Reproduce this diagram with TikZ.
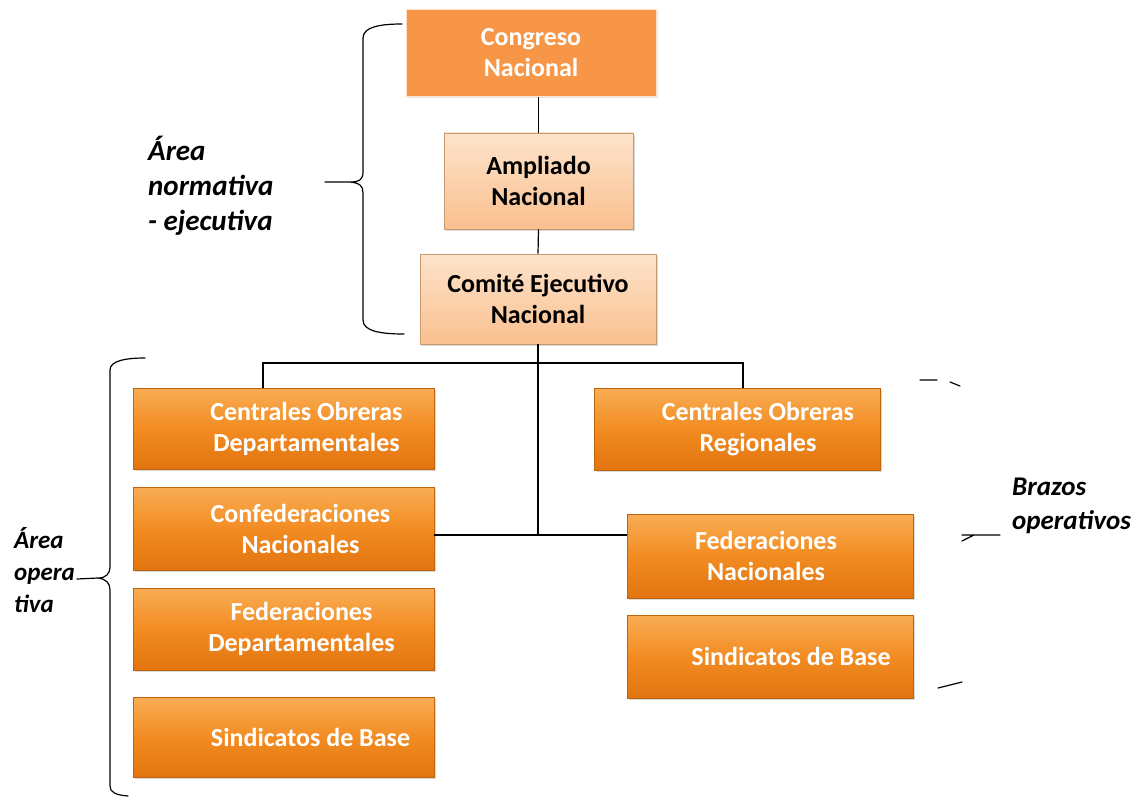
\documentclass[tikz,border=0pt]{standalone}
\usepackage{fontspec}
\setmainfont{Carlito}
\usetikzlibrary{shadows}
\definecolor{orgtop}{HTML}{F9AD55}
\definecolor{orgmid}{HTML}{F28C22}
\definecolor{orgbot}{HTML}{E27410}
\definecolor{congfill}{HTML}{F79646}
\definecolor{ltop}{HTML}{FDE3CB}
\definecolor{lbot}{HTML}{FAC08F}
\tikzset{
  orgbox/.style={draw=orgbot!85!black, line width=.6pt, top color=orgtop, bottom color=orgbot, middle color=orgmid,
    drop shadow={opacity=.3,shadow xshift=2pt,shadow yshift=-2pt}, inner sep=0pt},
  ltbox/.style={draw=lbot!80!black, line width=.6pt, top color=ltop, bottom color=lbot,
    drop shadow={opacity=.3,shadow xshift=2pt,shadow yshift=-2pt}, inner sep=0pt},
  wtxt/.style={text=white, font=\bfseries\fontsize{26}{31}\selectfont, align=center},
  btxt/.style={text=black, font=\bfseries\fontsize{26}{31}\selectfont, align=center},
  lbl/.style={font=\bfseries\itshape\fontsize{27}{34}\selectfont, align=left, inner sep=0pt},
  conn/.style={line width=1.2pt},
  brc/.style={line width=1.2pt, line cap=round}
}
\begin{document}
\begin{tikzpicture}[x=1pt,y=-1pt]
  \useasboundingbox (0,0) rectangle (1133,797);
  % top column
  \node[draw=ltop, line width=1pt, fill=congfill, inner sep=0pt, minimum width=250, minimum height=87,
    drop shadow={opacity=.2,shadow xshift=2pt,shadow yshift=-2pt}] (cong) at (531,53) {};
  \node[wtxt] at (cong.center) {Congreso\\Nacional};
  \node[ltbox, minimum width=189, minimum height=96] (amp) at (538.5,181) {};
  \node[btxt] at (amp.center) {Ampliado\\Nacional};
  \node[ltbox, minimum width=236, minimum height=90] (cen) at (538,299) {};
  \node[btxt] at (cen.center) {Comité Ejecutivo\\Nacional};
  % operative boxes
  \foreach \n/\x/\y/\w/\h/\dx/\t in {
      cod/283.5/428.5/301/81/23/{Centrales Obreras\\Departamentales},
      conf/283.5/528.5/301/83/17/{Confederaciones\\Nacionales},
      fd/283.5/629/301/82/18/{Federaciones\\Departamentales},
      sbl/283.5/737/301/80/27/{Sindicatos de Base},
      cor/737/429/286/82/21/{Centrales Obreras\\Regionales},
      fn/770/556/286/84/-4/{Federaciones\\Nacionales},
      sbr/770/656.5/286/83/21/{Sindicatos de Base}}
    \node[orgbox, minimum width=\w, minimum height=\h, label={[wtxt,xshift=\dx]center:\t}] (\n) at (\x,\y) {};
  % connectors
  \path (cen.south |- 0,363) coordinate (hb) (cen.south |- 0,535) coordinate (hj);
  \draw[conn] (amp.north |- cong.south) -- (amp.north);
  \draw[conn] (amp.south) -- (cen.north);
  \draw[conn] (cen.south) -- (hj);
  \draw[conn] ([xshift=-20.5]cod.north) |- (hb) -| ([xshift=6]cor.north);
  \draw[conn] (conf.east |- hj) -- (fn.west |- hj);
  % braces and labels
  \draw[brc] (402,24) .. controls (380,24) and (363,27) .. (363,38) -- (363,172)
    .. controls (363,179) and (360,182) .. (350,182) -- (325,182)
    (350,182) .. controls (360,183) and (363,186) .. (363,193) -- (363,320)
    .. controls (363,331) and (380,334) .. (404,334);
  \node[lbl, anchor=north west, font=\bfseries\itshape\fontsize{29}{35}\selectfont] (normlbl) at (148,136) {Área\\normativa\\- ejecutiva};
  \draw[brc] (145,358) .. controls (125,358) and (110,361) .. (110,370) -- (110,566)
    .. controls (110,574) and (106,578) .. (98,578) -- (77,579)
    (98,578) .. controls (106,579) and (110,583) .. (110,590) -- (110,786)
    .. controls (110,792) and (115,795) .. (128,796);
  \node[lbl, anchor=north west, font=\bfseries\itshape\fontsize{25}{32}\selectfont] (oplbl) at (14,527) {Área\\opera\\tiva};
  \draw[brc] (920,380) -- (937,380) (950,382) -- (960,386);
  \draw[brc] (962,541) -- (974,535) (962,535) -- (1000,535);
  \draw[brc] (938,688) -- (962,682);
  \node[lbl, anchor=north west] (brlbl) at (1012,478) {Brazos\\operativos};
\end{tikzpicture}
\end{document}
